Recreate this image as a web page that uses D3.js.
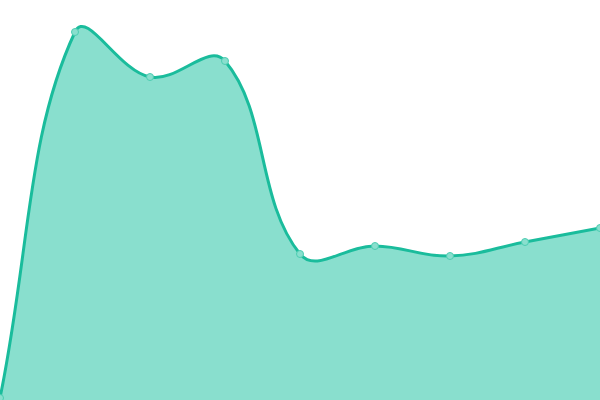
<!DOCTYPE html>
<html>
<head>
<meta charset="utf-8">
<script src="https://cdn.jsdelivr.net/npm/d3@7"></script>
<style>
  body { margin: 0; background: #fff; }
  svg { display: block; }
</style>
</head>
<body>
<div id="chart"></div>
<script>
var svgWidth = 600;
var svgHeight = 400;

// data
var categories = ["1", "2", "3", "4", "5", "6", "7", "8", "9"];
var values = [2, 368, 323, 339, 146, 154, 144, 158, 172];

var lineColor = "#1abc9c";
var fillColor = "#89dfce";

var x = d3.scalePoint()
  .domain(categories)
  .range([0, svgWidth])
  .padding(0);

var y = d3.scaleLinear()
  .domain([0, 400])
  .range([svgHeight, 0]);

// spline like the one Chart.js draws (tension 0.4, control points capped to the area)
function splineCurve(context) {
  return {
    areaStart: function() { this._line = 0; },
    areaEnd: function() { this._line = NaN; },
    lineStart: function() { this._pts = []; },
    point: function(px, py) { this._pts.push([+px, +py]); },
    lineEnd: function() {
      var pts = this._pts, n = pts.length, t = 0.4;
      if (n) {
        if (this._line) context.lineTo(pts[0][0], pts[0][1]);
        else context.moveTo(pts[0][0], pts[0][1]);
      }
      var cps = pts.map(function(p, i) {
        var prev = pts[Math.max(i - 1, 0)];
        var next = pts[Math.min(i + 1, n - 1)];
        var d01 = Math.hypot(p[0] - prev[0], p[1] - prev[1]);
        var d12 = Math.hypot(next[0] - p[0], next[1] - p[1]);
        var s01 = d01 / (d01 + d12) || 0;
        var s12 = d12 / (d01 + d12) || 0;
        var fa = t * s01, fb = t * s12;
        var cap = function(q) {
          return [Math.max(0, Math.min(svgWidth, q[0])), Math.max(0, Math.min(svgHeight, q[1]))];
        };
        return {
          before: cap([p[0] - fa * (next[0] - prev[0]), p[1] - fa * (next[1] - prev[1])]),
          after: cap([p[0] + fb * (next[0] - prev[0]), p[1] + fb * (next[1] - prev[1])])
        };
      });
      for (var i = 1; i < n; i++) {
        var a = cps[i - 1].after, b = cps[i].before;
        context.bezierCurveTo(a[0], a[1], b[0], b[1], pts[i][0], pts[i][1]);
      }
      if (this._line || (this._line !== 0 && n === 1)) context.closePath();
      this._line = 1 - this._line;
    }
  };
}

var svg = d3.select("#chart")
  .append("svg")
  .attr("width", svgWidth)
  .attr("height", svgHeight);

var area = d3.area()
  .x(function(d, i) { return x(categories[i]); })
  .y0(y(0) + 2)
  .y1(function(d) { return y(d); })
  .curve(splineCurve);

var line = d3.line()
  .x(function(d, i) { return x(categories[i]); })
  .y(function(d) { return y(d); })
  .curve(splineCurve);

svg.append("path")
  .datum(values)
  .attr("d", area)
  .attr("fill", fillColor);

svg.append("path")
  .datum(values)
  .attr("d", line)
  .attr("fill", "none")
  .attr("stroke", lineColor)
  .attr("stroke-width", 3);

// the small round points
svg.selectAll("circle")
  .data(values)
  .enter()
  .append("circle")
  .attr("cx", function(d, i) { return x(categories[i]); })
  .attr("cy", function(d) { return y(d); })
  .attr("r", 3.5)
  .attr("fill", fillColor)
  .attr("stroke", "#4ccdb1")
  .attr("stroke-width", 1);
</script>
</body>
</html>
